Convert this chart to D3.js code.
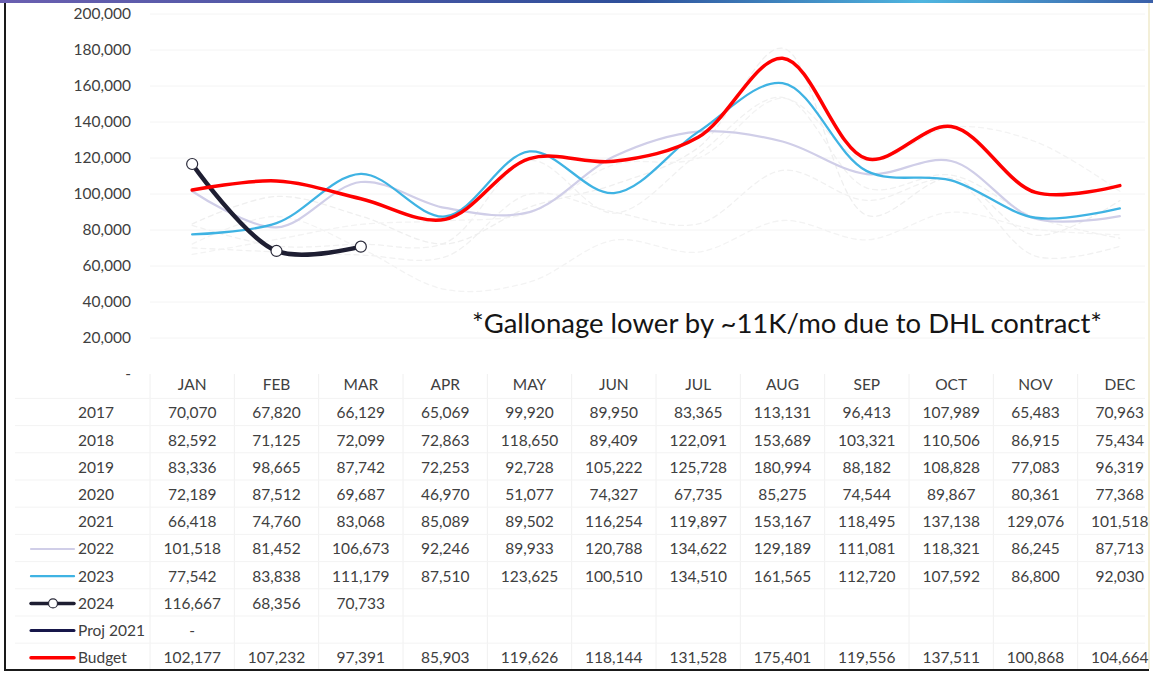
<!DOCTYPE html>
<html>
<head>
<meta charset="utf-8">
<script src="https://cdn.jsdelivr.net/npm/d3@7"></script>
<style>
  body { margin: 0; background: #fff; }
  svg { display: block; font-family: Lato, "Open Sans", sans-serif; }
</style>
</head>
<body>
<div class="static-image"></div>
<script>
var months = ["JAN", "FEB", "MAR", "APR", "MAY", "JUN", "JUL", "AUG", "SEP", "OCT", "NOV", "DEC"];
var yTicks = [0, 20000, 40000, 60000, 80000, 100000, 120000, 140000, 160000, 180000, 200000];

var v2017 = [70070, 67820, 66129, 65069, 99920, 89950, 83365, 113131, 96413, 107989, 65483, 70963];
var v2018 = [82592, 71125, 72099, 72863, 118650, 89409, 122091, 153689, 103321, 110506, 86915, 75434];
var v2019 = [83336, 98665, 87742, 72253, 92728, 105222, 125728, 180994, 88182, 108828, 77083, 96319];
var v2020 = [72189, 87512, 69687, 46970, 51077, 74327, 67735, 85275, 74544, 89867, 80361, 77368];
var v2021 = [66418, 74760, 83068, 85089, 89502, 116254, 119897, 153167, 118495, 137138, 129076, 101518];
var v2022 = [101518, 81452, 106673, 92246, 89933, 120788, 134622, 129189, 111081, 118321, 86245, 87713];
var v2023 = [77542, 83838, 111179, 87510, 123625, 100510, 134510, 161565, 112720, 107592, 86800, 92030];
var v2024 = [116667, 68356, 70733];
var proj2021 = [0];
var budget = [102177, 107232, 97391, 85903, 119626, 118144, 131528, 175401, 119556, 137511, 100868, 104664];

var note = "*Gallonage lower by ~11K/mo due to DHL contract*";

var width = 1153;
var height = 673;

var series = [
    { name: "2017", values: v2017, color: "#f1f1f1", w: 1.3, dash: "5,4", key: false },
    { name: "2018", values: v2018, color: "#f1f1f1", w: 1.3, dash: "5,4", key: false },
    { name: "2019", values: v2019, color: "#efefef", w: 1.3, dash: "5,4", key: false },
    { name: "2020", values: v2020, color: "#f3f3f3", w: 1.3, dash: "5,4", key: false },
    { name: "2021", values: v2021, color: "#f3f3f3", w: 1.3, dash: "5,4", key: false },
    { name: "2022", values: v2022, color: "#d0cee8", w: 2.2, key: true },
    { name: "2023", values: v2023, color: "#3fb3e3", w: 2.3, key: true },
    { name: "2024", values: v2024, color: "#1e1e32", w: 4.5, key: true, marker: true },
    { name: "Proj 2021", values: proj2021, color: "#17174a", w: 3, key: true, noLine: true },
    { name: "Budget", values: budget, color: "#ff0000", w: 3.5, key: true }
];

var svg = d3.select(".static-image")
    .append("svg")
    .attr("width", width)
    .attr("height", height);

// frame
var grad = svg.append("defs").append("linearGradient").attr("id", "topbar");
grad.append("stop").attr("offset", "0%").attr("stop-color", "#6a5fb0");
grad.append("stop").attr("offset", "55%").attr("stop-color", "#2e4f9a");
grad.append("stop").attr("offset", "80%").attr("stop-color", "#4fb6e0");
grad.append("stop").attr("offset", "100%").attr("stop-color", "#3a5fa8");
svg.append("rect").attr("x", 0).attr("y", 0).attr("width", width).attr("height", 3).attr("fill", "url(#topbar)");
svg.append("path")
    .attr("d", "M5,3 V670 H1149")
    .attr("fill", "none").attr("stroke", "#1a1a1a").attr("stroke-width", 2);
svg.append("line")
    .attr("x1", 1149).attr("x2", 1149).attr("y1", 3).attr("y2", 669)
    .attr("stroke", "#f3efd8").attr("stroke-width", 2);

var x = d3.scaleBand().domain(months).range([150, 1162]);
var cx = function (m) { return x(m) + x.bandwidth() / 2; };
var y = d3.scaleLinear().domain([0, 200000]).range([374, 14]);
var fmt = d3.format(",");

// gridlines
svg.append("g")
    .selectAll("line")
    .data(yTicks.slice(1))
    .enter().append("line")
    .attr("x1", 150).attr("x2", 1145)
    .attr("y1", function (d) { return y(d); })
    .attr("y2", function (d) { return y(d); })
    .attr("stroke", "#f4f4f4").attr("stroke-width", 1);

// y axis labels
var yAxis = d3.axisLeft(y).tickValues(yTicks)
    .tickFormat(function (d) { return d === 0 ? "-" : fmt(d); })
    .tickSize(0).tickPadding(0);
var ya = svg.append("g").attr("transform", "translate(131,0)").call(yAxis);
ya.select(".domain").remove();
ya.selectAll("text").attr("font-size", 15.5).attr("fill", "#404040").attr("font-family", "Lato, sans-serif");

// lines
var line = d3.line()
    .x(function (d, i) { return cx(months[i]); })
    .y(function (d) { return y(d); })
    .curve(d3.curveCatmullRom.alpha(0.5));

svg.append("g")
    .selectAll("path")
    .data(series.filter(function (s) { return !s.noLine; }))
    .enter().append("path")
    .attr("d", function (s) { return line(s.values); })
    .attr("fill", "none")
    .attr("stroke", function (s) { return s.color; })
    .attr("stroke-width", function (s) { return s.w; })
    .attr("stroke-dasharray", function (s) { return s.dash || null; })
    .attr("stroke-linecap", "round");

var s24 = series.filter(function (s) { return s.marker; })[0];
svg.append("g")
    .selectAll("circle")
    .data(s24.values)
    .enter().append("circle")
    .attr("cx", function (d, i) { return cx(months[i]); })
    .attr("cy", function (d) { return y(d); })
    .attr("r", 5.5)
    .attr("fill", "#fff")
    .attr("stroke", "#2a2a3a").attr("stroke-width", 1.2);

// note
svg.append("text")
    .attr("x", 472).attr("y", 333)
    .attr("font-size", 27.5)
    .attr("fill", "#151515")
    .attr("font-family", "Lato, sans-serif")
    .text(note);

// table
var rowY0 = 413, rowH = 27.2, headY = 385;
var tbl = svg.append("g").attr("font-size", 15.5).attr("fill", "#404040");

var vLines = months.map(function (m) { return x(m); });
tbl.selectAll("line.v")
    .data(vLines)
    .enter().append("line")
    .attr("x1", function (d) { return d; }).attr("x2", function (d) { return d; })
    .attr("y1", 374).attr("y2", 669)
    .attr("stroke", "#f0f0f0");
tbl.selectAll("line.h")
    .data(series)
    .enter().append("line")
    .attr("x1", 15).attr("x2", 1145)
    .attr("y1", function (s, i) { return rowY0 - rowH / 2 - 1 + i * rowH; })
    .attr("y2", function (s, i) { return rowY0 - rowH / 2 - 1 + i * rowH; })
    .attr("stroke", "#f3f3f3");

tbl.selectAll("text.head")
    .data(months)
    .enter().append("text")
    .attr("x", cx).attr("y", headY)
    .attr("text-anchor", "middle").attr("dy", "0.35em")
    .text(function (d) { return d; });

var rows = tbl.selectAll("g.row")
    .data(series)
    .enter().append("g")
    .attr("transform", function (s, i) { return "translate(0," + (rowY0 + i * rowH) + ")"; });

rows.append("text")
    .attr("x", 78).attr("dy", "0.35em")
    .text(function (s) { return s.name; });

rows.filter(function (s) { return s.key; })
    .append("line")
    .attr("x1", 31).attr("x2", 74).attr("y1", 0).attr("y2", 0)
    .attr("stroke", function (s) { return s.color; })
    .attr("stroke-width", function (s) { return Math.min(s.w, 3.5); })
    .attr("stroke-linecap", "round");

rows.filter(function (s) { return s.marker; })
    .append("circle")
    .attr("cx", 53).attr("cy", 0).attr("r", 4.5)
    .attr("fill", "#fff").attr("stroke", "#2a2a3a").attr("stroke-width", 1.2);

rows.selectAll("text.val")
    .data(function (s) { return s.values; })
    .enter().append("text")
    .attr("x", function (d, i) { return cx(months[i]); })
    .attr("dy", "0.35em")
    .attr("text-anchor", "middle")
    .text(function (d) { return d === 0 ? "-" : fmt(d); });
</script>
</body>
</html>
